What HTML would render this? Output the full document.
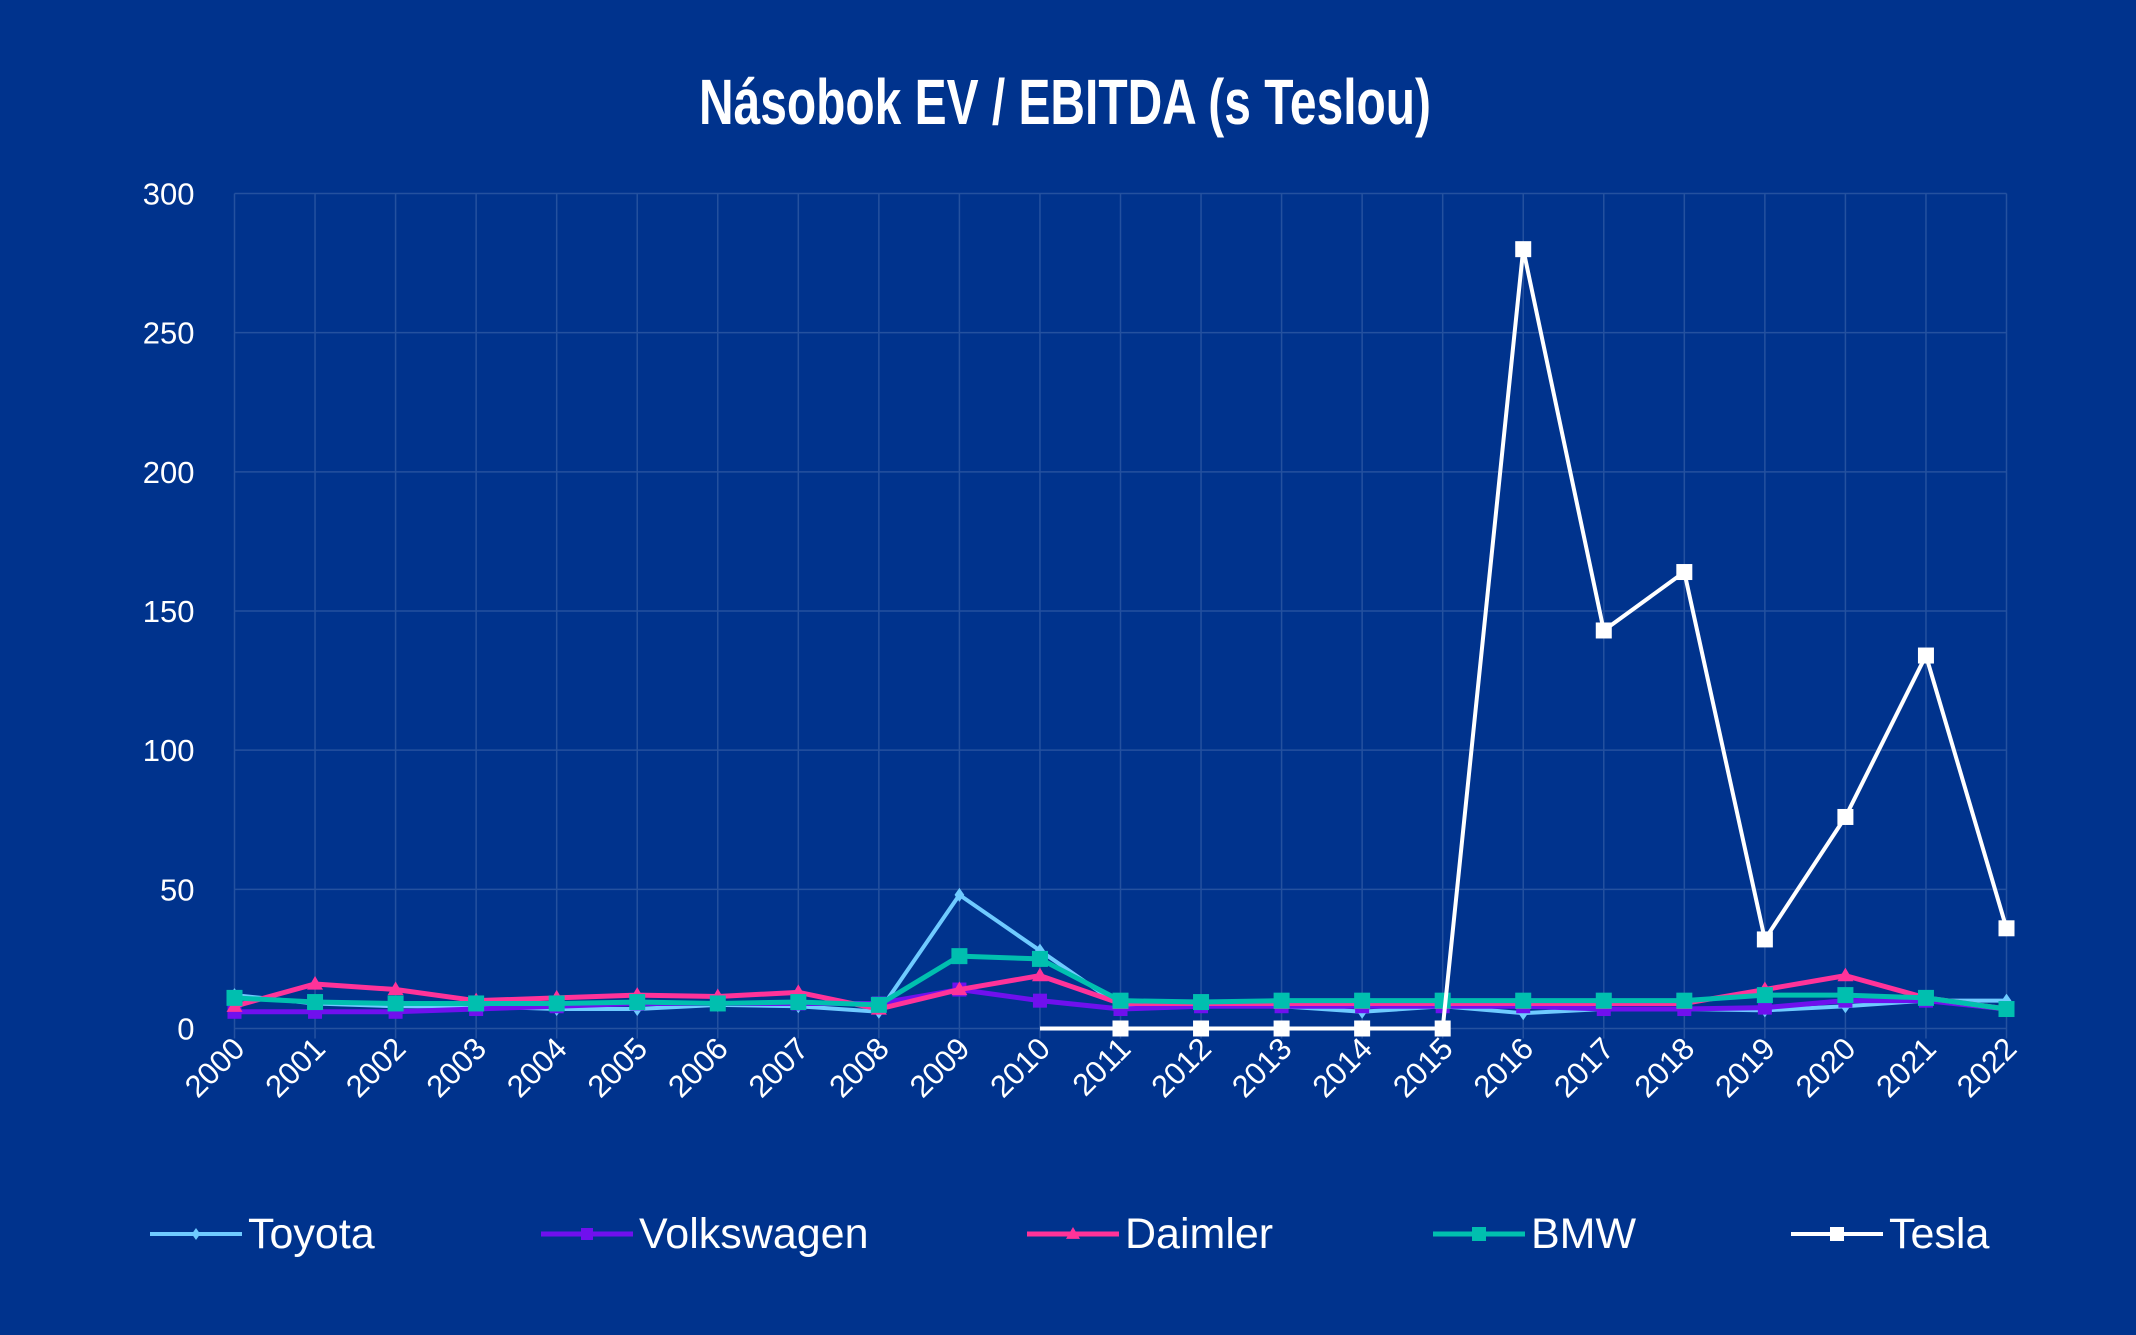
<!DOCTYPE html>
<html><head><meta charset="utf-8"><style>
body{margin:0;background:#00338D;}
svg{display:block;font-family:"Liberation Sans",sans-serif;}
</style></head><body>
<svg id="chart" width="2136" height="1335" viewBox="0 0 2136 1335" xmlns="http://www.w3.org/2000/svg">
<rect width="2136" height="1335" fill="#00338D"/>
<text x="1065" y="124" text-anchor="middle" fill="#fff" font-weight="bold" font-size="64" textLength="732" lengthAdjust="spacingAndGlyphs">Násobok EV / EBITDA (s Teslou)</text>
<g id="grid"></g><g id="series"></g><g id="axes"></g><g id="legend"></g>
</svg>
<script>
const years=["2000","2001","2002","2003","2004","2005","2006","2007","2008","2009","2010","2011","2012","2013","2014","2015","2016","2017","2018","2019","2020","2021","2022"];
const yTicks=[0,50,100,150,200,250,300];
const toyota=[12,9,8,8,7,7,8.5,8,6,48,28,8,8,8,6,8,5.5,7,7,6.5,8,10,10];
const volkswagen=[6,6,6,7,8,9,9,9,9,14,10,7,8,8,8,8,8,7,7,7.5,10,10,7];
const daimler=[8,16,14,10,11,12,11.5,13,7,14,19,9,9,9,9,9,9,9,9,14,19,11,7];
const bmw=[11,9.5,9,9,9,9.5,9,9.5,8.5,26,25,10,9.5,10,10,10,10,10,10,12,12,11,7];
const tesla=[null,null,null,null,null,null,null,null,null,null,0,0,0,0,0,0,280,143,164,32,76,134,36];
const seriesNames=["Toyota","Volkswagen","Daimler","BMW","Tesla"];
const NS="http://www.w3.org/2000/svg";
const L=234.5,R=2006.5,T=193.5,B=1028.5;
const x=i=>L+(R-L)*i/(years.length-1);
const y=v=>B-(B-T)*v/300;
function mk(tag,attrs,parent){const e=document.createElementNS(NS,tag);for(const k in attrs)e.setAttribute(k,attrs[k]);parent.appendChild(e);return e;}
const grid=document.getElementById('grid'),axes=document.getElementById('axes'),sg=document.getElementById('series'),lg=document.getElementById('legend');
yTicks.forEach(t=>{
 const l=mk('line',{x1:L,x2:R,y1:y(t),y2:y(t),stroke:'#24519f','stroke-width':1.5},grid);
 
 
 const tx=mk('text',{x:L-40,y:y(t)+11,'text-anchor':'end',fill:'#fff','font-size':31},axes);
 tx.textContent=t;
 
 
});
years.forEach((yr,i)=>{
 const l=mk('line',{x1:x(i),x2:x(i),y1:T,y2:B+10,stroke:'#24519f','stroke-width':1.5},grid);
 
 
 const tx=mk('text',{x:x(i)+12,y:B+22,'text-anchor':'end',fill:'#fff','font-size':31,transform:`rotate(-45 ${x(i)+12} ${B+22})`},axes);
 tx.textContent=yr;
 
 
});
function marker(g,type,cx,cy,color,s){
 if(type==='diamond')return mk('polygon',{points:`${cx},${cy-s} ${cx+s*0.7},${cy} ${cx},${cy+s} ${cx-s*0.7},${cy}`,fill:color},g);
 if(type==='triangle')return mk('polygon',{points:`${cx},${cy-s} ${cx+s},${cy+s*0.7} ${cx-s},${cy+s*0.7}`,fill:color},g);
 return mk('rect',{x:cx-s,y:cy-s,width:2*s,height:2*s,fill:color},g);
}
const defs=[[toyota,'#6FCBFF','diamond',7,4],[volkswagen,'#7010EE','square',7,5],[daimler,'#FF3399','triangle',8,5],[bmw,'#00BFAF','square',8,5],[tesla,'#FFFFFF','square',8,4]];
defs.forEach(([data,color,m,s,w],si)=>{
 const g=mk('g',{},sg);
 
 
 let d='';data.forEach((v,i)=>{if(v===null)return;d+=(d?'L':'M')+x(i)+' '+y(v);});
 mk('path',{d:d,fill:'none',stroke:color,'stroke-width':w,'stroke-linejoin':'round'},g);
 data.forEach((v,i)=>{if(v===null)return;if(si===4&&i===10)return;
  const p=marker(g,m,x(i),y(v),color,s);
  
  });
});
const lx=[150,541,1027,1433,1791];
defs.forEach(([data,color,m,s,w],si)=>{
 const g=mk('g',{},lg);
 
 
 mk('line',{x1:lx[si],x2:lx[si]+92,y1:1234,y2:1234,stroke:color,'stroke-width':w},g);
 marker(g,m,lx[si]+46,1234,color,s-1);
 const t=mk('text',{x:lx[si]+98,y:1248,fill:'#fff','font-size':43},g);
 t.textContent=seriesNames[si];
});
</script>
</body></html>
